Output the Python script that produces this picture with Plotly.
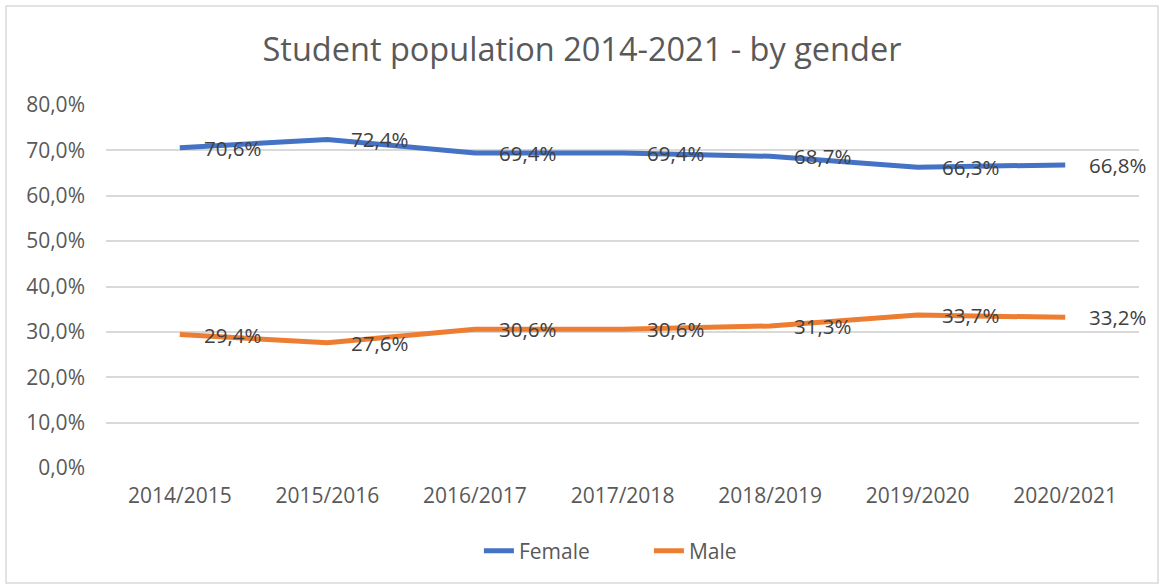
import plotly.graph_objects as go

categories = ["2014/2015", "2015/2016", "2016/2017", "2017/2018", "2018/2019", "2019/2020", "2020/2021"]
female = [70.6, 72.4, 69.4, 69.4, 68.7, 66.3, 66.8]
male = [29.4, 27.6, 30.6, 30.6, 31.3, 33.7, 33.2]
y_ticks = [0, 10, 20, 30, 40, 50, 60, 70, 80]

def fmt(v):
    return f"{v:.1f}".replace(".", ",") + "%"

FONT = "Open Sans"
fig = go.Figure()
fig.add_trace(go.Scatter(x=categories, y=female, mode="lines", name="Female",
                         line=dict(color="#4472C4", width=5)))
fig.add_trace(go.Scatter(x=categories, y=male, mode="lines", name="Male",
                         line=dict(color="#ED7D31", width=5)))

for series in (female, male):
    for c, v in zip(categories, series):
        fig.add_annotation(x=c, y=v, text=fmt(v), showarrow=False, xanchor="left",
                           yanchor="middle", xshift=22,
                           font=dict(family=FONT, size=20.5, color="#404040"))

fig.add_shape(type="rect", xref="paper", yref="paper", x0=-0.0968, x1=1.0184, y0=-0.3168, y1=1.2727,
              line=dict(color="#D9D9D9", width=1.5))

fig.update_layout(
    width=1164, height=588,
    margin=dict(l=106, r=25, t=105, b=120),
    paper_bgcolor="white", plot_bgcolor="white",
    title=dict(text="Student population 2014-2021 - by gender", x=0.5, xanchor="center",
               y=0.915, yanchor="middle",
               font=dict(family=FONT, size=32.5, color="#595959")),
    showlegend=True,
    legend=dict(orientation="h", x=0.361, xanchor="left", y=-0.229, yanchor="middle",
                entrywidth=125, entrywidthmode="pixels",
                font=dict(family=FONT, size=21, color="#595959")),
    xaxis=dict(type="category", showgrid=False, showline=False, zeroline=False,
               ticks="", tickfont=dict(family=FONT, size=21, color="#595959"),
               ticklabelstandoff=13, range=[-0.5, 6.5]),
    yaxis=dict(range=[0, 80], tickvals=y_ticks, ticktext=[fmt(v) for v in y_ticks],
               showgrid=True, gridcolor="#D9D9D9", gridwidth=1.5, zeroline=False,
               showline=False, ticks="", ticklabelstandoff=20,
               tickfont=dict(family=FONT, size=21, color="#595959")),
)
fig.write_html("out.html", config={"displayModeBar": False},
               post_script="document.body.style.margin='0px';document.body.style.overflow='hidden';")
